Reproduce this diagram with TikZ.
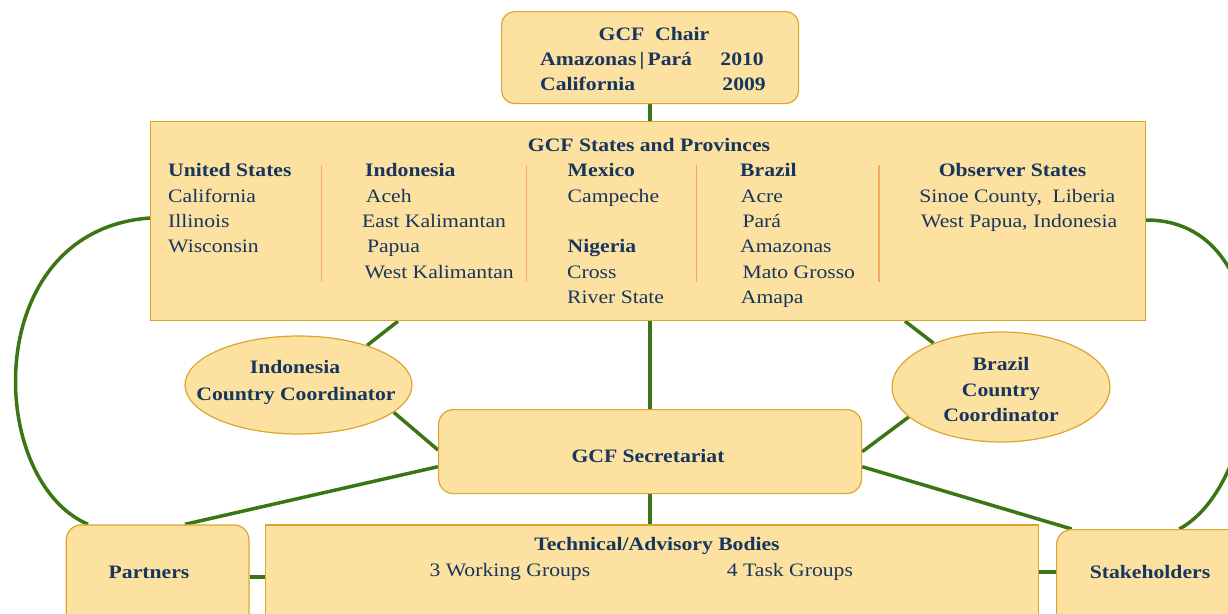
\documentclass[tikz,border=0pt]{standalone}
\usepackage{fontspec}
\setmainfont{Liberation Serif}[FakeStretch=1.14]
\usetikzlibrary{shapes.geometric,calc,backgrounds}
\definecolor{boxfill}{RGB}{253,225,160}
\definecolor{boxline}{RGB}{222,165,45}
\definecolor{navy}{RGB}{23,54,93}
\definecolor{conn}{RGB}{60,118,20}
\definecolor{sepc}{RGB}{244,168,96}
\begin{document}
\begin{tikzpicture}[x=1pt,y=-1pt,
  box/.style={draw=boxline, fill=boxfill, line width=1.2pt, inner sep=0pt, anchor=north west},
  rbox/.style={box, rounded corners=13pt},
  oval/.style={ellipse, draw=boxline, fill=boxfill, line width=1.2pt, inner sep=0pt},
  link/.style={draw=conn, line width=3.5pt},
  sepline/.style={draw=sepc, line width=1.2pt},
  t/.style={inner sep=0pt, text=navy, font=\fontsize{19}{23}\selectfont, anchor=base west},
  tb/.style={t, font=\fontsize{19}{23}\selectfont\bfseries},
  tc/.style={t, anchor=base},
  tbc/.style={tb, anchor=base}]
\useasboundingbox (0,0) rectangle (1228,613);
\clip (0,0) rectangle (1228,613);

% boxes
\node[rbox, minimum width=297pt, minimum height=92pt] (chair) at (501,11) {};
\node[box, minimum width=995pt, minimum height=199pt] (states) at (150,121) {};
\node[rbox, rounded corners=15pt, minimum width=423pt, minimum height=84pt] (sec) at (438,409) {};
\node[box, minimum width=773pt, minimum height=120pt] (tech) at (265,524.3) {};
\node[rbox, rounded corners=15pt, minimum width=182.6pt, minimum height=120pt] (partners) at (65.7,524.3) {};
\node[rbox, rounded corners=15pt, minimum width=220pt, minimum height=120pt] (stake) at (1056,529) {};
\node[oval, minimum width=227pt, minimum height=98pt] (ind) at (298.5,385) {};
\node[oval, minimum width=218pt, minimum height=110pt] (bra) at (1001,387) {};

% connectors
\begin{scope}[on background layer]
\draw[link] (chair.south) -- (chair.south |- states.north);
\draw[link] (sec.north) -- (sec.north |- states.south);
\draw[link] (sec.south) -- (sec.south |- tech.north);
\draw[link] ($(states.south west)+(248,0)$) -- (ind.30);
\draw[link] (ind.-16) -- ($(sec.north west)+(0,41)$);
\draw[link] ($(sec.north west)+(0,57.7)$) -- ($(partners.north west)+(119.3,0)$);
\draw[link] ($(states.south west)+(755,0)$) -- (bra.147);
\draw[link] (bra.198) -- ($(sec.north east)+(0,42.7)$);
\draw[link] ($(sec.north east)+(0,57.7)$) -- ($(stake.north west)+(15.7,0)$);
\draw[link] ($(partners.north east)+(0,52.7)$) -- ($(tech.north west)+(0,52.7)$);
\draw[link] ($(tech.north east)+(0,47.7)$) -- ($(stake.north west)+(0,43)$);
\draw[link] ($(states.north west)+(0,97)$) .. controls (-20,230) and (-15,480) .. ($(partners.north west)+(22.3,0)$);
\draw[link] ($(states.north east)+(0,99)$) .. controls (1290,220) and (1270,480) .. ($(stake.north west)+(123.3,0)$);
\end{scope}

% chair text
\node[tbc] (c1) at (654,40) {GCF\ \ Chair};
\node[tb] (c2) at (540,65.7) {Amazonas\,|\,Pará};
\node[tb, anchor=base east] (c2y) at (764,65.7) {2010};
\node[tb] (c3) at (540,90.7) {California};
\node[tb, anchor=base east] (c3y) at (766,90.7) {2009};

% states text
\node[tbc] (st) at (649,151) {GCF States and Provinces};
\def\ba{176.8}\def\bb{202.1}\def\bc{227.4}\def\bd{252.7}\def\be{278}\def\bf{303.3}
\node[tb] (us) at (168,\ba) {United States};
\node[t] (us1) at (168,\bb) {California};
\node[t] (us2) at (168,\bc) {Illinois};
\node[t] (us3) at (168,\bd) {Wisconsin};
\node[tb] (id) at (365,\ba) {Indonesia};
\node[t] (id1) at (365.7,\bb) {Aceh};
\node[t] (id2) at (362,\bc) {East Kalimantan};
\node[t] (id3) at (366.8,\bd) {Papua};
\node[t] (id4) at (364.3,\be) {West Kalimantan};
\node[tb] (mx) at (567.5,\ba) {Mexico};
\node[t] (mx1) at (567.5,\bb) {Campeche};
\node[tb] (ng) at (567.5,\bd) {Nigeria};
\node[t] (ng1) at (567,\be) {Cross};
\node[t] (ng2) at (567,\bf) {River State};
\node[tb] (br) at (740,\ba) {Brazil};
\node[t] (br1) at (740.7,\bb) {Acre};
\node[t] (br2) at (742.3,\bc) {Pará};
\node[t] (br3) at (740,\bd) {Amazonas};
\node[t] (br4) at (742.3,\be) {Mato Grosso};
\node[t] (br5) at (740.7,\bf) {Amapa};
\node[tbc] (ob) at (1012.5,\ba) {Observer States};
\node[tc] (ob1) at (1017.3,\bb) {Sinoe County,\ \ Liberia};
\node[tc] (ob2) at (1019.2,\bc) {West Papua, Indonesia};
\draw[sepline] (321.4,165) -- (321.4,281.7);
\draw[sepline] (526.4,165) -- (526.4,281.7);
\draw[sepline] (696.7,165) -- (696.7,281.7);
\draw[sepline] (879,165) -- (879,281.7);

% ellipse texts
\node[tbc] (ind1) at (295,373.3) {Indonesia};
\node[tbc] (ind2) at (296,400) {Country Coordinator};
\node[tbc] (bra1) at (1001,370) {Brazil};
\node[tbc] (bra2) at (1001,396) {Country};
\node[tbc] (bra3) at (1001,421) {Coordinator};

% lower texts
\node[tbc] (sectxt) at (648,462.7) {GCF Secretariat};
\node[tbc] (techt) at (657,550) {Technical/Advisory Bodies};
\node[t] (wg) at (429.3,576.7) {3 Working Groups};
\node[t] (tg) at (726.7,576.7) {4 Task Groups};
\node[tbc] (ptxt) at (149,578.3) {Partners};
\node[tbc] (stxt) at (1150,578.3) {Stakeholders};
\end{tikzpicture}
\end{document}
